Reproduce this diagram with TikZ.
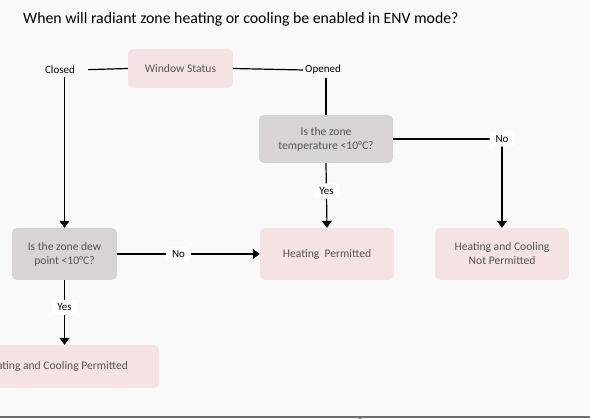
\documentclass[tikz,border=0pt]{standalone}
\usepackage{fontspec}
\setmainfont{Carlito}
\usetikzlibrary{arrows.meta}
\definecolor{bgc}{RGB}{249,249,249}
\definecolor{pinkfill}{RGB}{245,226,226}
\definecolor{greyfill}{RGB}{216,212,211}
\definecolor{boxtext}{RGB}{84,84,84}
\definecolor{rulegrey}{RGB}{112,112,112}
\begin{document}
\begin{tikzpicture}[x=1pt,y=-1pt,
  outcome/.style={fill=pinkfill, rounded corners=5pt, text=boxtext,
    font=\fontsize{11.6}{14}\selectfont, align=center, inner sep=0pt},
  question/.style={outcome, fill=greyfill},
  lbl/.style={text=black, font=\fontsize{11}{13}\selectfont, inner sep=1pt},
  tag/.style={lbl, fill=white, inner xsep=6pt, inner ysep=4pt, rounded corners=3pt},
  conn/.style={line width=1.2pt, draw=black},
  arr/.style={conn, -{Triangle[width=10pt,length=7pt]}}]

  % canvas
  \fill[bgc] (0,0) rectangle (590,419);
  \useasboundingbox (0,0) rectangle (590,419);

  % title
  \node[anchor=west, font=\fontsize{15.8}{19}\selectfont, inner sep=0pt] (title) at (23,19)
    {When will radiant zone heating or cooling be enabled in ENV mode?};

  % boxes
  \node[outcome, minimum width=105, minimum height=39] (ws) at (180.5,68.5) {Window Status};
  \node[lbl] (closed) at (60,70) {Closed};
  \node[lbl] (opened) at (323,70) {Opened};
  \node[question, minimum width=134, minimum height=48] (zone) at (326,139)
    {Is the zone\\temperature <10°C?};
  \node[question, minimum width=105, minimum height=52] (dew) at (64.5,254)
    {Is the zone dew\\point <10°C?};
  \node[outcome, minimum width=134, minimum height=52] (heat) at (327,254)
    {Heating\ \ Permitted};
  \node[outcome, minimum width=134, minimum height=52] (notp) at (502,254)
    {Heating and Cooling\\Not Permitted};
  \node[outcome, minimum width=206, minimum height=43] (final) at (56,366.5)
    {Heating and Cooling Permitted};

  % connectors
  \draw[conn, shorten >=12pt] (ws.west) -- (closed.east);
  \draw[conn, shorten >=1pt] (ws.east) -- (opened.west);
  \draw[arr, shorten <=2pt] (closed.south -| dew.north) -- (dew.north);
  \draw[conn, shorten <=2pt] (opened.south -| zone.north) -- (zone.north);
  \draw[arr] (zone.south) -- node[tag, pos=0.43] {Yes} (heat.north);
  \draw[arr] (dew.east) -- node[tag, pos=0.43] {No} (heat.west);
  \draw[arr] (zone.east) -| node[tag, pos=0.5] {No} (notp.north);
  \draw[arr] (dew.south) -- node[tag, pos=0.42] {Yes} (dew.south |- final.north);

  % bottom rule
  \draw[rulegrey, line width=2pt] (0,417) -- (590,417);
  \draw[rulegrey, line width=2pt] (360,417) -- (360,419);
\end{tikzpicture}
\end{document}
